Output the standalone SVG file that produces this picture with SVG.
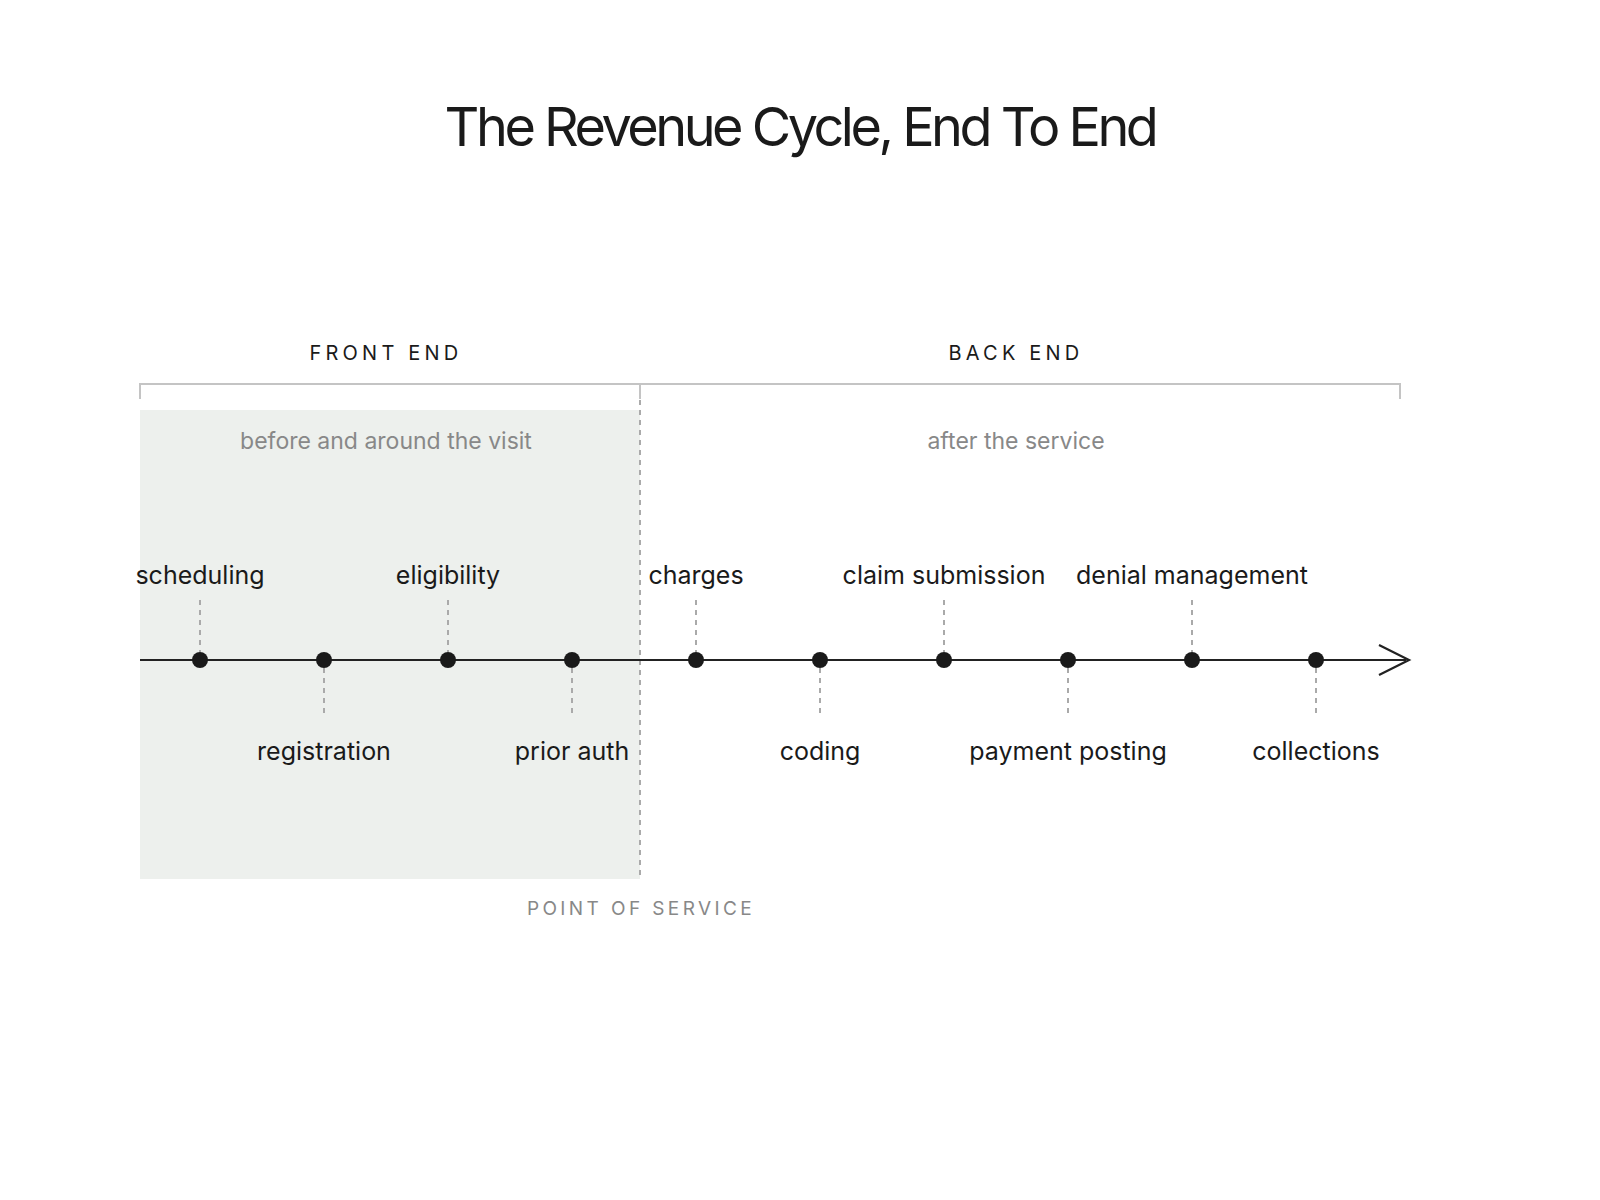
<svg xmlns="http://www.w3.org/2000/svg" width="1600" height="1200" viewBox="0 0 1600 1200">
<style>
  text { font-family: Inter, "Noto Sans", "Liberation Sans", sans-serif; }
  .title { font-size: 54px; fill: #1a1a1a; letter-spacing: -3.5px; }
  .phase { font-size: 20px; fill: #1a1a1a; letter-spacing: 4.2px; }
  .sub { font-size: 23px; fill: #888888; }
  .lbl { font-size: 25px; fill: #1a1a1a; }
  .pos { font-size: 19px; fill: #888888; letter-spacing: 3.4px; }
  .bracket { stroke: #c4c4c4; stroke-width: 2; fill: none; }
  .tick { stroke: #aaaaaa; stroke-width: 2; stroke-dasharray: 5 5; fill: none; }
  .axis { stroke: #222222; stroke-width: 2.2; fill: none; }
  .dot { fill: #1a1a1a; }
</style>
<rect width="1600" height="1200" fill="#ffffff"/>
<text class="title" x="800" y="146" text-anchor="middle">The Revenue Cycle, End To End</text>

<g id="front-end">
  <rect x="140" y="410" width="500" height="469" fill="#edf0ed"/>
  <text class="phase" x="386" y="360" text-anchor="middle">FRONT END</text>
  <text class="sub" x="386" y="449" text-anchor="middle">before and around the visit</text>
</g>
<g id="back-end">
  <text class="phase" x="1016" y="360" text-anchor="middle">BACK END</text>
  <text class="sub" x="1016" y="449" text-anchor="middle">after the service</text>
</g>
<g id="brackets">
  <path class="bracket" d="M140 399 V384 H1400 V399 M640 384 V399"/>
</g>
<g id="point-of-service">
  <line class="tick" x1="640" y1="400" x2="640" y2="879"/>
  <text class="pos" x="641" y="915" text-anchor="middle">POINT OF SERVICE</text>
</g>

<g id="connectors">
  <line class="axis" x1="140" y1="660" x2="1406" y2="660"/>
  <polyline class="axis" points="1379,645 1409,660 1379,675" stroke-width="2.5"/>
  <line class="tick" x1="200" y1="600" x2="200" y2="652"/>
  <line class="tick" x1="324" y1="668" x2="324" y2="715"/>
  <line class="tick" x1="448" y1="600" x2="448" y2="652"/>
  <line class="tick" x1="572" y1="668" x2="572" y2="715"/>
  <line class="tick" x1="696" y1="600" x2="696" y2="652"/>
  <line class="tick" x1="820" y1="668" x2="820" y2="715"/>
  <line class="tick" x1="944" y1="600" x2="944" y2="652"/>
  <line class="tick" x1="1068" y1="668" x2="1068" y2="715"/>
  <line class="tick" x1="1192" y1="600" x2="1192" y2="652"/>
  <line class="tick" x1="1316" y1="668" x2="1316" y2="715"/>
</g>

<g id="scheduling"><circle class="dot" cx="200" cy="660" r="8"/><text class="lbl" x="200" y="584" text-anchor="middle">scheduling</text></g>
<g id="registration"><circle class="dot" cx="324" cy="660" r="8"/><text class="lbl" x="324" y="760" text-anchor="middle">registration</text></g>
<g id="eligibility"><circle class="dot" cx="448" cy="660" r="8"/><text class="lbl" x="448" y="584" text-anchor="middle">eligibility</text></g>
<g id="prior-auth"><circle class="dot" cx="572" cy="660" r="8"/><text class="lbl" x="572" y="760" text-anchor="middle">prior auth</text></g>
<g id="charges"><circle class="dot" cx="696" cy="660" r="8"/><text class="lbl" x="696" y="584" text-anchor="middle">charges</text></g>
<g id="coding"><circle class="dot" cx="820" cy="660" r="8"/><text class="lbl" x="820" y="760" text-anchor="middle">coding</text></g>
<g id="claim-submission"><circle class="dot" cx="944" cy="660" r="8"/><text class="lbl" x="944" y="584" text-anchor="middle">claim submission</text></g>
<g id="payment-posting"><circle class="dot" cx="1068" cy="660" r="8"/><text class="lbl" x="1068" y="760" text-anchor="middle">payment posting</text></g>
<g id="denial-management"><circle class="dot" cx="1192" cy="660" r="8"/><text class="lbl" x="1192" y="584" text-anchor="middle">denial management</text></g>
<g id="collections"><circle class="dot" cx="1316" cy="660" r="8"/><text class="lbl" x="1316" y="760" text-anchor="middle">collections</text></g>
</svg>
